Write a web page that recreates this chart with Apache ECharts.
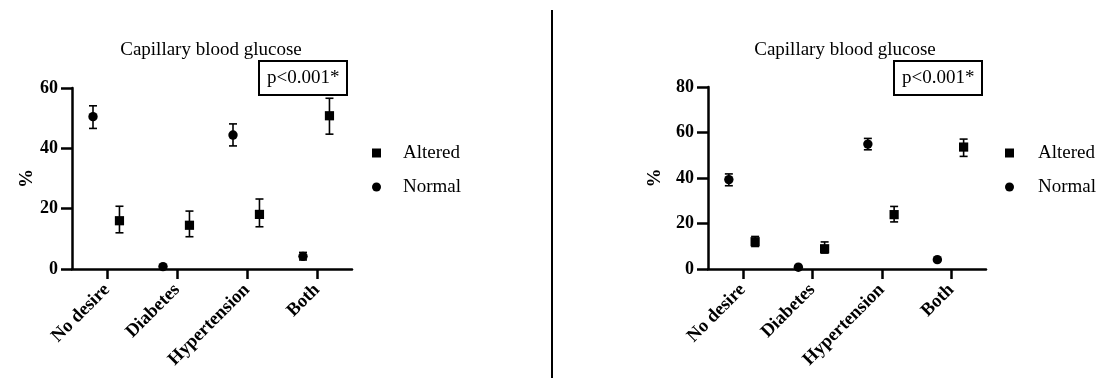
<!DOCTYPE html>
<html>
<head>
<meta charset="utf-8">
<script src="https://cdn.jsdelivr.net/npm/echarts@6/dist/echarts.min.js"></script>
<style>
  html, body { margin: 0; padding: 0; background: #fff; }
  #chart { width: 1097px; height: 378px; }
</style>
</head>
<body>
<div id="chart"></div>
<script>
// Groups on the x axis
const categories = ['No desire', 'Diabetes', 'Hypertension', 'Both'];

// Left panel: percentages with lower / upper error limits
const normalA      = [50.5, 0.8, 44.4, 4.2];
const normalALow   = [46.6, 0.8, 40.8, 3.0];
const normalAHigh  = [54.1, 0.8, 48.1, 5.5];
const alteredA     = [16.0, 14.5, 18.1, 50.8];
const alteredALow  = [12.0, 10.7, 14.0, 44.7];
const alteredAHigh = [20.8, 19.2, 23.2, 56.6];

// Right panel
const normalB      = [39.3, 0.8, 54.9, 4.1];
const normalBLow   = [36.6, 0.8, 52.4, 4.1];
const normalBHigh  = [41.8, 0.8, 57.4, 4.1];
const alteredB     = [12.0, 8.9, 23.9, 53.6];
const alteredBLow  = [9.9, 7.0, 20.7, 49.5];
const alteredBHigh = [14.3, 11.9, 27.5, 57.1];

// Y axis ranges
const yMaxA = 60, yMaxB = 80, yStep = 20;

const titleText = 'Capillary blood glucose';
const pText = 'p<0.001*';
const FONT = '"Liberation Serif", "Times New Roman", serif';

function rows(vals, lo, hi) {
  return vals.map((v, i) => [i, v, lo[i], hi[i]]);
}

// Point with error bar, dodged inside its category band
function makeRenderer(shape, shift) {
  return function (params, api) {
    const cat = api.value(0);
    const band = api.size([1, 0])[0];
    const p = api.coord([cat, api.value(1)]);
    const x = p[0] + band * shift;
    const y = p[1];
    const yLo = api.coord([cat, api.value(2)])[1];
    const yHi = api.coord([cat, api.value(3)])[1];
    const cap = 4;
    const ls = { stroke: '#000', lineWidth: 1.6 };
    const children = [
      { type: 'line', shape: { x1: x, y1: yLo, x2: x, y2: yHi }, style: ls },
      { type: 'line', shape: { x1: x - cap, y1: yHi, x2: x + cap, y2: yHi }, style: ls },
      { type: 'line', shape: { x1: x - cap, y1: yLo, x2: x + cap, y2: yLo }, style: ls }
    ];
    if (shape === 'circle') {
      children.push({ type: 'circle', shape: { cx: x, cy: y, r: 4.7 }, style: { fill: '#000' } });
    } else {
      children.push({ type: 'rect', shape: { x: x - 4.6, y: y - 4.6, width: 9.2, height: 9.2 }, style: { fill: '#000' } });
    }
    return { type: 'group', children: children };
  };
}

const axisLine = { show: true, lineStyle: { color: '#000', width: 2.5 } };

function xAxis(gridIndex) {
  return {
    type: 'category', gridIndex, data: categories, boundaryGap: true,
    axisLine,
    axisTick: { show: true, alignWithLabel: true, inside: false, length: 10, lineStyle: { color: '#000', width: 2.5 } },
    axisLabel: { rotate: 45, margin: 18, color: '#000', fontFamily: FONT, fontWeight: 'bold', fontSize: 18.5 }
  };
}

function yAxis(gridIndex, max, gap) {
  return {
    type: 'value', gridIndex, min: 0, max, interval: yStep,
    name: '%', nameLocation: 'middle', nameRotate: 90, nameGap: gap,
    nameTextStyle: { color: '#000', fontFamily: FONT, fontWeight: 'bold', fontSize: 19 },
    axisLine,
    axisTick: { show: true, inside: false, length: 11, lineStyle: { color: '#000', width: 2.5 } },
    axisLabel: { margin: 14, color: '#000', fontFamily: FONT, fontWeight: 'bold', fontSize: 18 },
    splitLine: { show: false }
  };
}

function legend(left, pad) {
  return {
    orient: 'vertical', left, top: 138, itemGap: 14,
    itemWidth: 9, itemHeight: 9,
    data: [{ name: 'Altered', icon: 'rect' }, { name: 'Normal', icon: 'circle' }],
    textStyle: { color: '#000', fontFamily: FONT, fontSize: 19, lineHeight: 20, padding: [0, 0, 0, pad] },
    selectedMode: false
  };
}

function series(name, shape, shift, data, xi) {
  return {
    name, type: 'custom', xAxisIndex: xi, yAxisIndex: xi,
    renderItem: makeRenderer(shape, shift),
    itemStyle: { color: '#000' },
    encode: { x: 0, y: 1 },
    data, silent: true
  };
}

const chart = echarts.init(document.getElementById('chart'), null, { renderer: 'canvas' });
chart.setOption({
  animation: false,
  backgroundColor: '#fff',
  title: [
    { text: titleText, left: 206, top: 36, textAlign: 'center',
      textStyle: { fontFamily: FONT, fontWeight: 'normal', fontSize: 19, color: '#000' } },
    { text: titleText, left: 840, top: 36, textAlign: 'center',
      textStyle: { fontFamily: FONT, fontWeight: 'normal', fontSize: 19, color: '#000' } },
    { text: pText, left: 259, top: 61, padding: [7, 8, 7, 8], borderColor: '#000', borderWidth: 2,
      textStyle: { fontFamily: FONT, fontWeight: 'normal', fontSize: 19, color: '#000', lineHeight: 20 } },
    { text: pText, left: 894, top: 61, padding: [7, 8, 7, 8], borderColor: '#000', borderWidth: 2,
      textStyle: { fontFamily: FONT, fontWeight: 'normal', fontSize: 19, color: '#000', lineHeight: 20 } }
  ],
  legend: [legend(367, 17), legend(1000, 19)],
  grid: [
    { left: 72, top: 88, width: 280, height: 181 },
    { left: 708, top: 87, width: 278, height: 182 }
  ],
  xAxis: [xAxis(0), xAxis(1)],
  yAxis: [yAxis(0, yMaxA, 35), yAxis(1, yMaxB, 43)],
  series: [
    series('Altered', 'rect', 0.178, rows(alteredA, alteredALow, alteredAHigh), 0),
    series('Normal', 'circle', -0.2, rows(normalA, normalALow, normalAHigh), 0),
    series('Altered', 'rect', 0.178, rows(alteredB, alteredBLow, alteredBHigh), 1),
    series('Normal', 'circle', -0.2, rows(normalB, normalBLow, normalBHigh), 1)
  ],
  graphic: [
    { type: 'line', shape: { x1: 552, y1: 10, x2: 552, y2: 378 }, style: { stroke: '#000', lineWidth: 2 } }
  ]
});
</script>
</body>
</html>
